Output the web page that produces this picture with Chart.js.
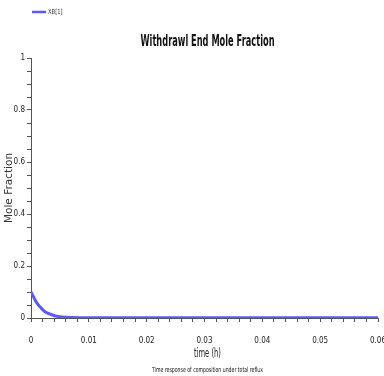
<!DOCTYPE html>
<html>
<head>
<meta charset="utf-8">
<script src="https://cdn.jsdelivr.net/npm/chart.js@4/dist/chart.umd.min.js"></script>
<style>
  html, body { margin: 0; padding: 0; background: #fff; }
  #wrap { width: 384px; height: 376px; }
</style>
</head>
<body>
<div id="wrap"><canvas id="moleChart"></canvas></div>
<script>
// data
const times = [0, 0.0004, 0.0007, 0.0011, 0.0016, 0.002, 0.0025, 0.0033, 0.0042, 0.0054, 0.007, 0.01, 0.02, 0.03, 0.04, 0.05, 0.06];
const xb1 = [0.1, 0.083, 0.069, 0.055, 0.042, 0.032, 0.023, 0.015, 0.008, 0.004, 0.002, 0.001, 0.001, 0.001, 0.001, 0.001, 0.001];
const seriesLabel = 'XB[1]';
const xMajorTicks = [0, 0.01, 0.02, 0.03, 0.04, 0.05, 0.06];
const yMajorTicks = [0, 0.2, 0.4, 0.6, 0.8, 1];
const chartTitle = 'Withdrawl End Mole Fraction';
const xTitle = 'time (h)';
const yTitle = 'Mole Fraction';
const caption = 'Time response of composition under total reflux';

const narrow = "'Liberation Sans Narrow', 'DejaVu Sans Condensed', sans-serif";
const lineColor = '#5a5af8';
const axisColor = '#555';

function isMajor(v, list) {
    return list.some(m => Math.abs(m - v) < 1e-9);
}

// text squeezed to a given width (the original uses a very condensed face)
function squeezedText(ctx, text, cx, cy, font, color, width) {
    ctx.save();
    ctx.font = font;
    ctx.fillStyle = color;
    ctx.textAlign = 'center';
    ctx.textBaseline = 'middle';
    const w = ctx.measureText(text).width;
    const k = Math.min(1, width / w);
    ctx.translate(cx, cy);
    ctx.scale(k, 1);
    ctx.fillText(text, 0, 0);
    ctx.restore();
}

// title, axis title, caption and legend drawn by hand so they sit where the original has them
const decorations = {
    id: 'decorations',
    afterDraw(chart) {
        const { ctx, chartArea } = chart;
        const mid = (chartArea.left + chartArea.right) / 2 + 3;
        squeezedText(ctx, chartTitle, mid, 42, "bold 15px 'DejaVu Sans', sans-serif", '#111', 134);
        squeezedText(ctx, xTitle, mid, 354, "12px 'DejaVu Sans', sans-serif", '#222', 27);
        squeezedText(ctx, caption, mid, 370, "7px 'DejaVu Sans', sans-serif", '#111', 111);

        // legend
        const ds = chart.data.datasets[0];
        ctx.save();
        ctx.strokeStyle = ds.borderColor;
        ctx.lineWidth = 2.5;
        ctx.beginPath();
        ctx.moveTo(chartArea.left + 1, 12);
        ctx.lineTo(chartArea.left + 15, 12);
        ctx.stroke();
        ctx.restore();
        ctx.save();
        ctx.font = "7px 'DejaVu Sans', sans-serif";
        ctx.fillStyle = '#333';
        ctx.textBaseline = 'middle';
        ctx.translate(chartArea.left + 17, 12);
        ctx.scale(0.75, 1);
        ctx.fillText(ds.label, 0, 0);
        ctx.restore();
    }
};

new Chart(document.getElementById('moleChart').getContext('2d'), {
    type: 'line',
    data: {
        datasets: [{
            label: seriesLabel,
            data: times.map((t, i) => ({ x: t, y: xb1[i] })),
            borderColor: lineColor,
            backgroundColor: lineColor,
            borderWidth: 3,
            pointRadius: 0,
            cubicInterpolationMode: 'monotone',
            fill: false
        }]
    },
    options: {
        responsive: true,
        maintainAspectRatio: false,
        animation: false,
        layout: { padding: { left: 0, right: 6, top: 58, bottom: 15 } },
        plugins: {
            legend: { display: false },
            title: { display: false },
            tooltip: { enabled: false }
        },
        scales: {
            x: {
                type: 'linear',
                min: 0,
                max: 0.06,
                border: { color: axisColor, width: 1 },
                grid: {
                    drawOnChartArea: false,
                    tickLength: 4,
                    color: axisColor
                },
                ticks: {
                    stepSize: 0.002,
                    autoSkip: false,
                    maxRotation: 0,
                    padding: 14,
                    color: '#222',
                    font: { family: narrow, size: 8 },
                    callback: v => isMajor(v, xMajorTicks) ? String(+v.toFixed(3)) : ''
                },
                afterFit: scale => {
                    scale.paddingLeft = 0;
                    scale.paddingRight = 0;
                    scale.height = 43;
                }
            },
            y: {
                min: 0,
                max: 1,
                border: { color: axisColor, width: 1 },
                grid: {
                    drawOnChartArea: false,
                    tickLength: 4,
                    color: axisColor
                },
                ticks: {
                    stepSize: 0.05,
                    autoSkip: false,
                    padding: 2,
                    color: '#222',
                    font: { family: narrow, size: 8 },
                    callback: v => isMajor(v, yMajorTicks) ? String(+v.toFixed(2)) : ''
                },
                title: {
                    display: true,
                    text: yTitle,
                    color: '#333',
                    font: { family: "'DejaVu Sans', sans-serif", size: 10.5 },
                    padding: { top: 3, bottom: 0 }
                },
                afterFit: scale => { scale.width = 31; }
            }
        }
    },
    plugins: [decorations]
});
</script>
</body>
</html>
